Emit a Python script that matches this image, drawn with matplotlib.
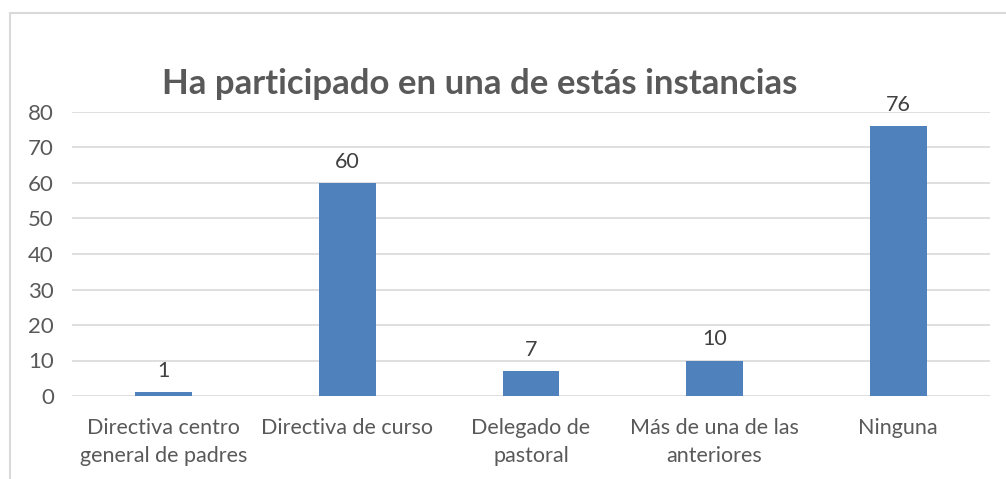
import matplotlib.pyplot as plt
from matplotlib.patches import Rectangle

categorias = ['Directiva centro\ngeneral de padres', 'Directiva de curso',
              'Delegado de\npastoral', 'Más de una de las\nanteriores', 'Ninguna']
valores = [1, 60, 7, 10, 76]
titulo = 'Ha participado en una de estás instancias'
yticks = [0, 10, 20, 30, 40, 50, 60, 70, 80]

plt.rcParams['font.family'] = ['Lato', 'DejaVu Sans']

fig = plt.figure(figsize=(10.06, 4.79), dpi=100)
ax = fig.add_axes([72/1006, 83/479, 918/1006, 284/479])

x = list(range(len(valores)))
ax.bar(x, valores, width=0.31, color='#4F81BD', zorder=3)
for xi, v in zip(x, valores):
    ax.annotate(str(v), (xi, v), xytext=(0, 8), textcoords='offset points',
                ha='center', va='bottom', fontsize=15.5, color='#404040')

ax.set_xlim(-0.5, len(valores) - 0.5)
ax.set_ylim(0, 80)
ax.set_yticks(yticks)
ax.yaxis.grid(True, color='#D9D9D9', lw=1.2, zorder=0)
ax.set_xticks(x)
ax.set_xticklabels(categorias, fontsize=15.5, color='#595959', linespacing=1.5)
ax.tick_params(axis='y', labelsize=16, labelcolor='#595959', length=0, pad=13)
ax.tick_params(axis='x', length=0, pad=16)
for s in ax.spines.values():
    s.set_visible(False)

fig.text(480/1006, 1 - 84/479, titulo, ha='center', va='center',
         fontsize=25, fontweight='bold', color='#595959')

fig.patches.append(Rectangle((10/1006, -0.1), 1.2, 1.1 - 13/479,
                             transform=fig.transFigure, fill=False,
                             edgecolor='#D9D9D9', lw=1.5))

fig.savefig('out.png', dpi=100)
